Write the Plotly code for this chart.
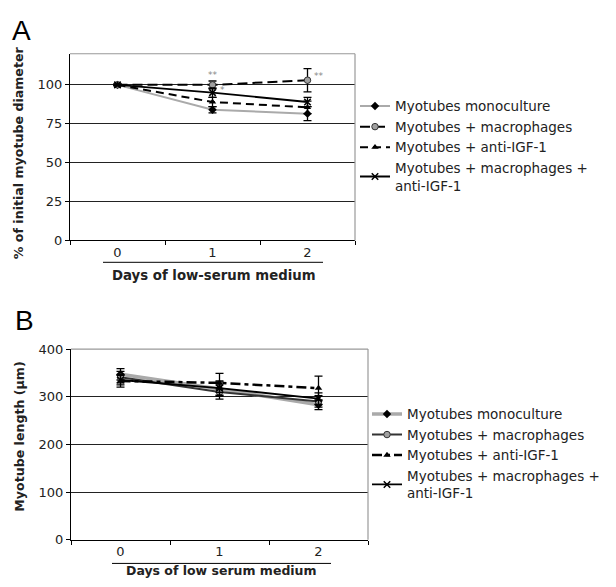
import plotly.graph_objects as go

days = [0, 1, 2]
day_labels = ["0", "1", "2"]
series_names = ["Myotubes monoculture", "Myotubes + macrophages", "Myotubes + anti-IGF-1",
                "Myotubes + macrophages +<br>anti-IGF-1"]

# Panel A: % of initial myotube diameter
a_mono = [100, 84, 81.5]
a_mono_err = [0.5, 2, 4.5]
a_macro = [100, 100, 103]
a_macro_err = [0.5, 2.5, 7.5]
a_anti = [100, 89, 85.5]
a_anti_err = [0.5, 3, 4]
a_macanti = [100, 95, 89]
a_macanti_err = [0.5, 3, 3]

# Panel B: myotube length (um)
b_mono = [347, 316, 283]
b_mono_err = [12, 15, 10]
b_macro = [341, 310, 290]
b_macro_err = [12, 15, 12]
b_anti = [333, 329, 318]
b_anti_err = [13, 20, 25]
b_macanti = [335, 318, 296]
b_macanti_err = [10, 15, 12]

FONT = "DejaVu Sans"
TXT = "#222222"

fig = go.Figure()

def err(v):
    return dict(type="data", array=v, color="black", thickness=1.3, width=4)

def add_panel(xa, ya, legend, vals, panel):
    mono, mono_e, macro, macro_e, anti, anti_e, ma, ma_e = vals
    gray_w = 2 if panel == "A" else 3.5
    macro_line = dict(color="black", width=2, dash="10px,5px") if panel == "A" else dict(color="#333333", width=2)
    anti_line = dict(color="black", width=2, dash="8px,5px") if panel == "A" else dict(color="black", width=2.5, dash="10px,4px,4px,4px")
    specs = [
        (mono, mono_e, dict(color="#aaaaaa", width=gray_w), dict(symbol="diamond", size=6.5, color="black")),
        (macro, macro_e, macro_line, dict(symbol="circle", size=6.5, color="#a0a0a0", line=dict(color="#333333", width=1))),
        (anti, anti_e, anti_line, dict(symbol="triangle-up", size=6.5, color="black")),
        (ma, ma_e, dict(color="black", width=1.8), dict(symbol="x-thin", size=6.5, color="black", line=dict(color="black", width=1.5))),
    ]
    for name, (y, e, line, marker) in zip(series_names, specs):
        fig.add_trace(go.Scatter(x=days, y=y, error_y=err(e), mode="lines+markers", name=name,
                                 line=line, marker=marker, xaxis=xa, yaxis=ya, legend=legend))

add_panel("x", "y", "legend",
          [a_mono, a_mono_err, a_macro, a_macro_err, a_anti, a_anti_err, a_macanti, a_macanti_err], "A")
add_panel("x2", "y2", "legend2",
          [b_mono, b_mono_err, b_macro, b_macro_err, b_anti, b_anti_err, b_macanti, b_macanti_err], "B")

W, H = 616, 587
def px(x): return x / W
def py(y): return 1 - y / H

xcommon = dict(range=[-0.5, 2.5], tickvals=days, ticktext=day_labels, ticks="",
               showgrid=False, zeroline=False, showline=True, linecolor="black", linewidth=1.2,
               mirror=False, tickfont=dict(family=FONT, size=13, color=TXT),
               minor=dict(tickvals=[-0.5, 0.5, 1.5, 2.5], ticks="outside", ticklen=4,
                          tickcolor="black", showgrid=False))
ycommon = dict(showgrid=True, gridcolor="#222222", gridwidth=1, zeroline=False,
               showline=True, linecolor="black", linewidth=1.2, ticks="outside", ticklen=4,
               tickcolor="black", tickfont=dict(family=FONT, size=13, color=TXT))

fig.update_layout(
    width=W, height=H, margin=dict(l=0, r=0, t=0, b=0),
    paper_bgcolor="white", plot_bgcolor="white", showlegend=True,
    xaxis=dict(domain=[px(70), px(355)], anchor="y", **xcommon),
    yaxis=dict(domain=[py(239.5), py(48)], anchor="x", range=[0, 120],
               tickvals=[0, 25, 50, 75, 100], **ycommon),
    xaxis2=dict(domain=[px(71), px(368)], anchor="y2", **xcommon),
    yaxis2=dict(domain=[py(546.7), py(351)], anchor="x2", range=[0, 400],
                tickvals=[0, 100, 200, 300, 400], **ycommon),
    legend=dict(x=px(355), y=py(86), xanchor="left", yanchor="top", bgcolor="rgba(0,0,0,0)",
                font=dict(family=FONT, size=13.5, color=TXT), tracegroupgap=0),
    legend2=dict(x=px(367), y=py(402), xanchor="left", yanchor="top", bgcolor="rgba(0,0,0,0)",
                 font=dict(family=FONT, size=13.5, color=TXT), tracegroupgap=0),
)

# Box borders (top & right) in gray
for (x0, x1, y0, y1) in [(70, 355, 48, 239.5), (71, 368, 351, 546.7)]:
    fig.add_shape(type="line", xref="paper", yref="paper", x0=px(x0), x1=px(x1), y0=py(y0), y1=py(y0),
                  line=dict(color="#999999", width=1.2))
    fig.add_shape(type="line", xref="paper", yref="paper", x0=px(x1), x1=px(x1), y0=py(y0), y1=py(y1),
                  line=dict(color="#999999", width=1.2))

# Lines above x-axis titles
fig.add_shape(type="line", xref="paper", yref="paper", x0=px(103), x1=px(323), y0=py(262), y1=py(262),
              line=dict(color="black", width=1))
fig.add_shape(type="line", xref="paper", yref="paper", x0=px(112), x1=px(331), y0=py(571), y1=py(571),
              line=dict(color="black", width=1))

ann = []
ann.append(dict(text="<b>Days of low-serum medium</b>", x=px(214), y=py(276), xref="paper", yref="paper",
                showarrow=False, font=dict(family=FONT, size=13.3, color=TXT), xanchor="center", yanchor="middle"))
ann.append(dict(text="<b>Days of low serum medium</b>", x=px(221), y=0, xref="paper", yref="paper",
                showarrow=False, font=dict(family=FONT, size=12.5, color=TXT), xanchor="center", yanchor="bottom",
                borderpad=0))
ann.append(dict(text="<b>% of initial myotube diameter</b>", x=px(18), y=py(150), xref="paper", yref="paper",
                showarrow=False, textangle=-90, font=dict(family=FONT, size=12.6, color=TXT),
                xanchor="center", yanchor="middle"))
ann.append(dict(text="<b>Myotube length (μm)</b>", x=px(20), y=py(441), xref="paper", yref="paper",
                showarrow=False, textangle=-90, font=dict(family=FONT, size=12.6, color=TXT),
                xanchor="center", yanchor="middle"))
ann.append(dict(text="A", x=px(10), y=py(24), xref="paper", yref="paper", showarrow=False,
                font=dict(family="Liberation Sans", size=28, color="black"), xanchor="left", yanchor="middle"))
ann.append(dict(text="B", x=px(13), y=py(322), xref="paper", yref="paper", showarrow=False,
                font=dict(family="Liberation Sans", size=28, color="black"), xanchor="left", yanchor="middle"))
# significance marks
for (xv, yv, t) in [(1, 106.5, "**"), (1.1, 97, "*"), (2.12, 105.5, "**")]:
    ann.append(dict(text=t, x=xv, y=yv, xref="x", yref="y", showarrow=False,
                    font=dict(family=FONT, size=9, color="#888888"), xanchor="center", yanchor="middle"))

fig.update_layout(annotations=ann)
fig.write_html("out.html", config={"displayModeBar": False},
               post_script="document.body.style.margin='0px';")
